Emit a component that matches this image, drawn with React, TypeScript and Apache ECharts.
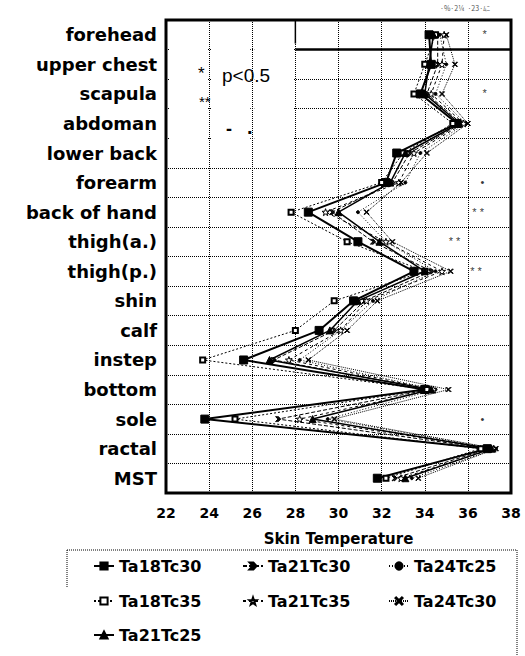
import React, { useEffect, useRef } from "react";
import * as echarts from "echarts";

const categories = [
  "forehead", "upper chest", "scapula", "abdoman", "lower back", "forearm",
  "back of hand", "thigh(a.)", "thigh(p.)", "shin", "calf", "instep",
  "bottom", "sole", "ractal", "MST",
];

const xTicks = [22, 24, 26, 28, 30, 32, 34, 36, 38];

const ta18tc30 = [34.2, 34.3, 33.8, 35.5, 32.7, 32.2, 28.6, 30.9, 33.5, 30.7, 29.1, 25.6, 34.0, 23.8, 36.9, 31.8];
const ta18tc35 = [34.5, 34.0, 33.5, 35.3, 33.0, 32.0, 27.8, 30.4, 34.0, 29.8, 28.0, 23.7, 34.1, 25.2, 36.6, 32.2];
const ta21tc30 = [34.6, 34.6, 34.1, 35.7, 33.3, 32.5, 29.7, 31.6, 34.3, 31.2, 29.8, 27.0, 34.2, 27.2, 37.0, 32.6];
const ta21tc35 = [34.9, 34.8, 34.3, 35.8, 33.5, 32.8, 29.4, 32.2, 34.8, 31.3, 30.1, 27.7, 34.4, 28.2, 37.2, 32.9];
const ta21tc25 = [34.4, 34.2, 34.0, 35.6, 33.1, 32.4, 30.0, 31.9, 34.0, 30.9, 29.6, 26.8, 34.3, 28.8, 37.1, 33.1];
const ta24tc25 = [34.7, 35.0, 34.5, 35.9, 33.8, 33.1, 30.9, 32.2, 34.5, 31.6, 30.1, 28.2, 34.5, 29.5, 37.3, 33.4];
const ta24tc30 = [35.0, 35.4, 34.8, 36.0, 34.1, 32.9, 31.3, 32.5, 35.2, 31.8, 30.4, 28.6, 35.1, 29.8, 37.3, 33.7];

const sigCategories = ["forehead", "scapula", "forearm", "back of hand", "thigh(a.)", "thigh(p.)", "sole"];
const sigValues = [36.8, 36.8, 36.7, 36.5, 35.4, 36.4, 36.7];
const sigMarks = ["*", "*", "•", "* *", "* *", "* *", "•"];

const STAR = "path://M5 0L6.2 3.5L10 3.6L7 5.9L8.1 9.5L5 7.4L1.9 9.5L3 5.9L0 3.6L3.8 3.5Z";
const CROSS = "path://M0 1L1 0L5 4L9 0L10 1L6 5L10 9L9 10L5 6L1 10L0 9L4 5Z";
const CHEV = "path://M0 0L5 5L0 10L2 10L7 5L2 0ZM4 0L9 5L4 10L6 10L11 5L6 0Z";

const seriesDefs = [
  { name: "Ta18Tc30", data: ta18tc30, symbol: "rect", size: 8, fill: "#000", dash: "solid", width: 2 },
  { name: "Ta21Tc30", data: ta21tc30, symbol: CHEV, size: 5, fill: "#000", dash: [4, 2], width: 1 },
  { name: "Ta24Tc25", data: ta24tc25, symbol: "circle", size: 3, fill: "#000", dash: [1, 2], width: 1 },
  { name: "Ta18Tc35", data: ta18tc35, symbol: "emptyRect", size: 5, fill: "#000", dash: [2, 2], width: 1 },
  { name: "Ta21Tc35", data: ta21tc35, symbol: STAR, size: 7, fill: "#fff", dash: [3, 3], width: 1 },
  { name: "Ta24Tc30", data: ta24tc30, symbol: CROSS, size: 5, fill: "#000", dash: [1, 1], width: 1 },
  { name: "Ta21Tc25", data: ta21tc25, symbol: "triangle", size: 7, fill: "#000", dash: "solid", width: 1.5 },
];

const legendPos = [
  { left: 93, top: 558 }, { left: 242, top: 558 }, { left: 388, top: 558 },
  { left: 93, top: 593 }, { left: 242, top: 593 }, { left: 388, top: 593 },
  { left: 93, top: 627 },
];

export default function App() {
  const ref = useRef<HTMLDivElement>(null);
  useEffect(() => {
    const chart = echarts.init(ref.current!, null, { renderer: "svg" });
    const series: any[] = seriesDefs.map((s) => ({
      name: s.name,
      type: "line",
      data: s.data.map((v, i) => [v, categories[i]]),
      symbol: s.symbol,
      symbolSize: s.size,
      showAllSymbol: true,
      lineStyle: { color: "#000", width: s.width, type: s.dash },
      itemStyle: { color: s.fill, borderColor: "#000", borderWidth: 1 },
      z: 3,
    }));
    series.push({
      name: "sig",
      type: "scatter",
      symbolSize: 1,
      itemStyle: { color: "rgba(0,0,0,0)" },
      label: {
        show: true, position: [0, 0], align: "center", verticalAlign: "middle",
        fontSize: 11, color: "#000", textBorderWidth: 0,
      },
      data: sigCategories.map((c, i) => ({
        value: [sigValues[i], c],
        label: { formatter: sigMarks[i] },
      })),
      z: 3,
    });

    const option: any = {
      animation: false,
      backgroundColor: "#fff",
      grid: {
        left: 166, right: 14, top: 20, bottom: 163,
        show: true, borderColor: "#000", borderWidth: 3, backgroundColor: "#fff",
      },
      xAxis: {
        type: "value", min: 22, max: 38, interval: 2,
        axisLine: { show: false }, axisTick: { show: false },
        splitLine: { show: true, lineStyle: { color: "#000", type: [1, 1], width: 1 } },
        axisLabel: {
          margin: 13, color: "#000", fontSize: 14, fontWeight: "bold", fontFamily: "DejaVu Sans",
          formatter: (v: number) => (xTicks.includes(v) ? String(v) : ""),
        },
        name: "Skin Temperature", nameLocation: "middle", nameGap: 38,
        nameTextStyle: { color: "#000", fontSize: 15, fontWeight: "bold", fontFamily: "DejaVu Sans" },
      },
      yAxis: {
        type: "category", data: categories, inverse: true, boundaryGap: true,
        axisLine: { show: false }, axisTick: { show: false },
        splitLine: { show: true, lineStyle: { color: "#000", type: [1, 1], width: 1 } },
        axisLabel: { margin: 9, color: "#000", fontSize: 18, fontWeight: "bold", fontFamily: "DejaVu Sans" },
      },
      legend: seriesDefs.map((s, i) => ({
        data: [s.name], left: legendPos[i].left, top: legendPos[i].top, padding: 0,
        itemWidth: 20, itemHeight: 9, selectedMode: false,
        textStyle: { color: "#000", fontSize: 16, fontWeight: "bold", fontFamily: "DejaVu Sans" },
      })),
      series,
    };
    chart.setOption(option);

    const px = (x: number, ci: number) => chart.convertToPixel({ gridIndex: 0 } as any, [x, categories[ci]]) as number[];
    const yc = (ci: number) => px(30, ci)[1];
    const b1 = (yc(0) + yc(1)) / 2;
    const b4 = (yc(3) + yc(4)) / 2;
    const x22 = px(22, 0)[0], x24 = px(24, 0)[0], x26 = px(26, 0)[0], x28 = px(28, 0)[0], x38 = px(38, 0)[0];
    const top = yc(0) - (yc(1) - yc(0)) / 2;
    const rects = [[x22 + 3, x24 - 2], [x24 + 2, x26 - 2], [x26 + 2, x28 - 2]].map(([a, b]) => ({
      type: "rect", z: 1, shape: { x: a, y: b1 - 4, width: b - a, height: b4 - 4 - (b1 - 4) + 8 },
      style: { fill: "#fff" }, silent: true,
    }));
    const txt = (x: number, y: number, t: string, size: number, weight = "normal") => ({
      type: "text", z: 10, x, y,
      style: { text: t, fill: "#000", fontSize: size, fontFamily: "Liberation Sans", fontWeight: weight, textVerticalAlign: "middle" },
    });
    chart.setOption({
      graphic: [
        ...rects,
        { type: "line", z: 2, shape: { x1: x28, y1: top, x2: x28, y2: b1 - 6 }, style: { stroke: "#000", lineWidth: 1.5 } },
        { type: "line", z: 2, shape: { x1: x28, y1: b1, x2: x38, y2: b1 }, style: { stroke: "#000", lineWidth: 2.5 } },
        txt(198, 73, "*", 17),
        txt(222, 75, "p<0.5", 19),
        txt(199, 101, "**", 15),
        txt(226, 129, "-", 18, "bold"),
        txt(247, 127, ".", 20, "bold"),
        { type: "text", z: 10, x: 440, y: 4, style: { text: "·%·2¼  ·23·ﾑﾆ", fill: "#555", fontSize: 7, fontFamily: "Noto Sans CJK JP" } },
        { type: "line", z: 10, shape: { x1: 67, y1: 550, x2: 517, y2: 550 }, style: { stroke: "#000", lineWidth: 1, lineDash: [1, 1] } },
        { type: "line", z: 10, shape: { x1: 67, y1: 550, x2: 67, y2: 588 }, style: { stroke: "#000", lineWidth: 1, lineDash: [1, 1] } },
        { type: "line", z: 10, shape: { x1: 517, y1: 550, x2: 517, y2: 656 }, style: { stroke: "#000", lineWidth: 1, lineDash: [1, 1] } },
      ],
    });
    return () => chart.dispose();
  }, []);
  return <div ref={ref} style={{ position: "fixed", left: 0, top: 0, width: 525, height: 656 }} />;
}
